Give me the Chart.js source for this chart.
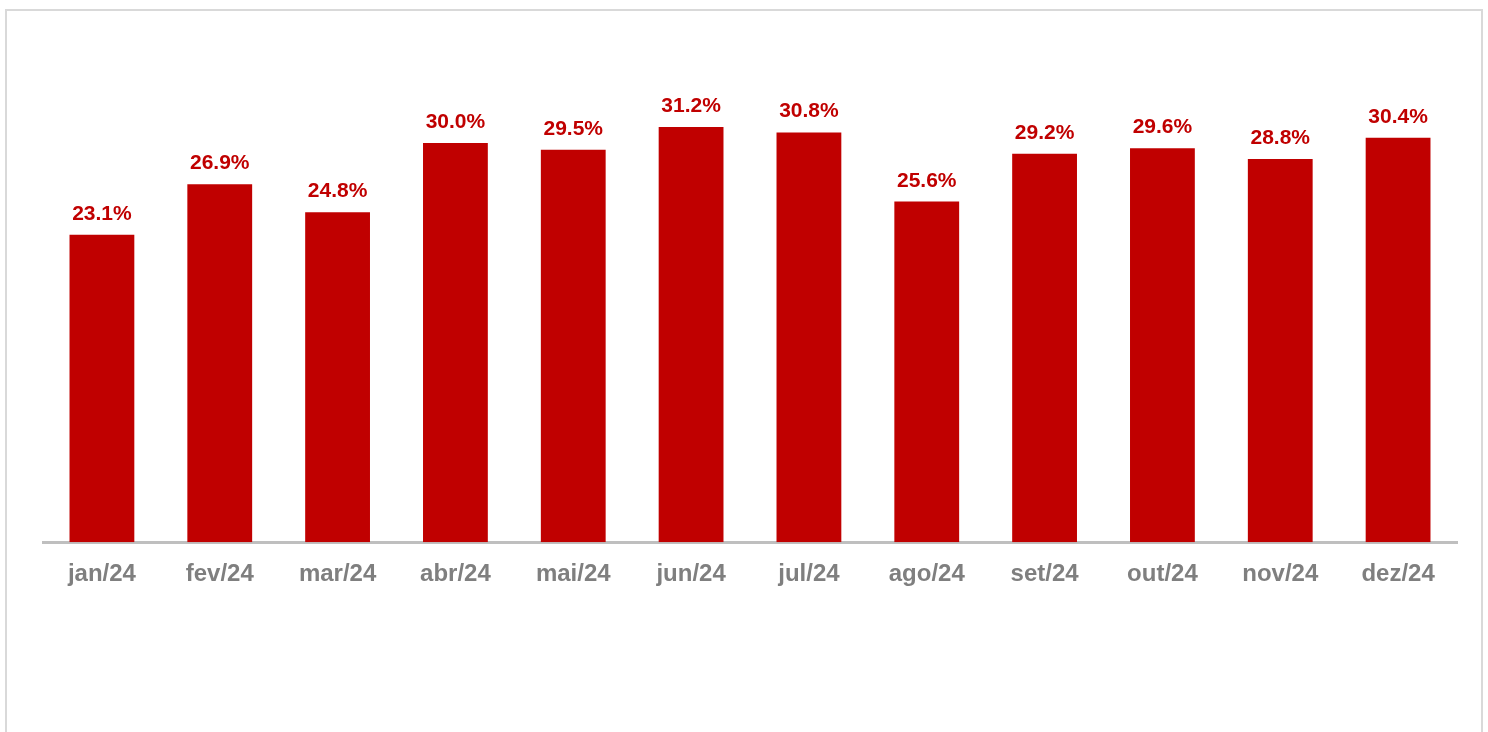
<!DOCTYPE html>
<html>
<head>
<meta charset="utf-8">
<script src="https://cdn.jsdelivr.net/npm/chart.js@4"></script>
<style>
    body { margin: 0; background: #ffffff; }
    #wrap { position: relative; width: 1488px; height: 732px; }
    #frame {
        position: absolute; left: 5px; top: 9px; width: 1474px; height: 740px;
        border: 2px solid #d9d9d9; box-sizing: content-box;
    }
    canvas { position: absolute; left: 0; top: 0; }
</style>
</head>
<body>
<div id="wrap">
    <div id="frame"></div>
    <canvas id="myChart" width="1488" height="732"></canvas>
</div>
<script>
const months = ['jan/24', 'fev/24', 'mar/24', 'abr/24', 'mai/24', 'jun/24',
    'jul/24', 'ago/24', 'set/24', 'out/24', 'nov/24', 'dez/24'];

const shareValues = [23.1, 26.9, 24.8, 30.0, 29.5, 31.2, 30.8, 25.6, 29.2, 29.6, 28.8, 30.4];

const BAR_COLOR = '#c00000';
const AXIS_COLOR = '#bfbfbf';
const TICK_COLOR = '#7f7f7f';

// labels over each bar, red bold
const valueLabels = {
    id: 'valueLabels',
    afterDatasetsDraw(chart) {
        const ctx = chart.ctx;
        const meta = chart.getDatasetMeta(0);
        ctx.save();
        ctx.fillStyle = BAR_COLOR;
        ctx.font = 'bold 21px "Liberation Sans", Arial, sans-serif';
        ctx.textAlign = 'center';
        ctx.textBaseline = 'alphabetic';
        meta.data.forEach((bar, i) => {
            ctx.fillText(shareValues[i].toFixed(1) + '%', bar.x, bar.y - 15);
        });
        ctx.restore();
    }
};

function drawChart() {
    const ctx = document.getElementById('myChart').getContext('2d');
    new Chart(ctx, {
        type: 'bar',
        data: {
            labels: months,
            datasets: [{
                data: shareValues,
                backgroundColor: BAR_COLOR,
                borderWidth: 0,
                barPercentage: 0.55,
                categoryPercentage: 1
            }]
        },
        options: {
            responsive: false,
            animation: false,
            layout: {
                padding: { left: 43, right: 31, top: 10, bottom: 125 }
            },
            scales: {
                y: {
                    display: false,
                    min: 0,
                    max: 40
                },
                x: {
                    grid: { display: false, drawTicks: false },
                    border: { display: true, color: AXIS_COLOR, width: 3 },
                    ticks: {
                        color: TICK_COLOR,
                        padding: 18,
                        font: {
                            family: '"Liberation Sans", Arial, sans-serif',
                            size: 24,
                            weight: 'bold'
                        }
                    }
                }
            },
            plugins: {
                legend: { display: false },
                tooltip: { enabled: false }
            }
        },
        plugins: [valueLabels]
    });
}

drawChart();
</script>
</body>
</html>
